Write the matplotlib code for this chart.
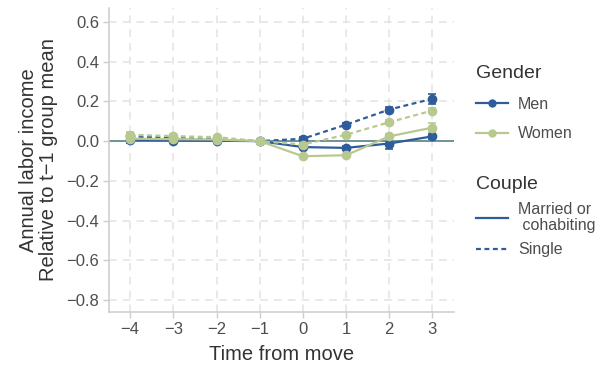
import matplotlib
matplotlib.use("Agg")
import matplotlib.pyplot as plt
from matplotlib.lines import Line2D

plt.rcParams["font.family"] = ["Liberation Sans", "DejaVu Sans"]

# Event-time estimates of annual labor income relative to t-1 group mean
time = [-4, -3, -2, -1, 0, 1, 2, 3]

men_married = [0.005, 0.003, 0.002, 0.0, -0.030, -0.034, -0.012, 0.024]
men_married_se = [0.012, 0.008, 0.006, 0.0, 0.010, 0.010, 0.028, 0.012]
men_single = [0.024, 0.016, 0.010, 0.0, 0.012, 0.083, 0.159, 0.213]
men_single_se = [0.014, 0.010, 0.008, 0.0, 0.008, 0.010, 0.014, 0.024]

women_married = [0.012, 0.010, 0.008, 0.0, -0.076, -0.071, 0.024, 0.068]
women_married_se = [0.010, 0.008, 0.006, 0.0, 0.006, 0.008, 0.014, 0.022]
women_single = [0.032, 0.025, 0.020, 0.0, -0.017, 0.032, 0.095, 0.154]
women_single_se = [0.012, 0.010, 0.008, 0.0, 0.008, 0.008, 0.010, 0.014]

BLUE = "#2F5C9B"
GREEN = "#B8C98F"
ZERO = "#6E939B"
GRID = "#E3E3E3"
TXT = "#4D4D4D"

fig = plt.figure(figsize=(6.02, 3.65), dpi=100)
ax = fig.add_axes([109 / 602, 1 - 312 / 365, 345 / 602, 304 / 365])

series = [
    (men_married, men_married_se, BLUE, "-"),
    (men_single, men_single_se, BLUE, (0, (2.2, 1.6))),
    (women_married, women_married_se, GREEN, "-"),
    (women_single, women_single_se, GREEN, (0, (2.2, 1.6))),
]
ax.axhline(0, color=ZERO, lw=1.4, zorder=1)
for vals, se, col, ls in series:
    ax.errorbar(time, vals, yerr=se, color=col, ls=ls, lw=1.6,
                marker="o", ms=6, capsize=3, elinewidth=1.2, capthick=1.2, zorder=3)

ax.set_xlim(-4.49, 3.5)
ax.set_ylim(-0.86, 0.67)
ax.set_xticks(time)
ax.set_xticklabels(["\u2212" + str(-t) if t < 0 else str(t) for t in time])
yt = [-0.8, -0.6, -0.4, -0.2, 0.0, 0.2, 0.4, 0.6]
ax.set_yticks(yt)
ax.set_yticklabels([("\u2212%.1f" % -v) if v < 0 else "%.1f" % v for v in yt])

ax.grid(True, color=GRID, ls=(0, (5, 4)), lw=1.1)
ax.set_axisbelow(True)
for s in ["top", "right"]:
    ax.spines[s].set_visible(False)
for s in ["left", "bottom"]:
    ax.spines[s].set_color("#CCCCCC")
    ax.spines[s].set_linewidth(1.1)
ax.tick_params(colors="#CCCCCC", labelcolor=TXT, labelsize=12, length=4, width=1, pad=3)

ax.set_xlabel("Time from move", fontsize=14.5, color="#333333", labelpad=6)
ax.set_ylabel("Annual labor income\nRelative to t\u22121 group mean",
              fontsize=14.5, color="#333333", labelpad=6, linespacing=1.1)

gender_handles = [
    Line2D([], [], color=BLUE, lw=1.6, marker="o", ms=5),
    Line2D([], [], color=GREEN, lw=1.6, marker="o", ms=5),
]
leg1 = fig.legend(gender_handles, ["Men", "Women"], title="Gender",
                  loc="upper left", bbox_to_anchor=(462 / 602, 1 - 51 / 365),
                  frameon=False, fontsize=11.5, title_fontsize=14,
                  handlelength=2.0, handletextpad=0.6, labelspacing=0.9,
                  alignment="left", labelcolor=TXT)
leg1.get_title().set_color("#333333")

couple_handles = [
    Line2D([], [], color=BLUE, lw=1.6, ls="-"),
    Line2D([], [], color=BLUE, lw=1.6, ls=(0, (2.2, 1.6))),
]
leg2 = fig.legend(couple_handles, ["Married or\n cohabiting", "Single"], title="Couple",
                  loc="upper left", bbox_to_anchor=(462 / 602, 1 - 162 / 365),
                  frameon=False, fontsize=11.5, title_fontsize=14,
                  handlelength=2.0, handletextpad=0.6, labelspacing=0.55,
                  alignment="left", labelcolor=TXT)
leg2.get_title().set_color("#333333")
for t in leg2.get_texts():
    t.set_linespacing(1.1)

fig.savefig("out.png", dpi=100, facecolor="white")
